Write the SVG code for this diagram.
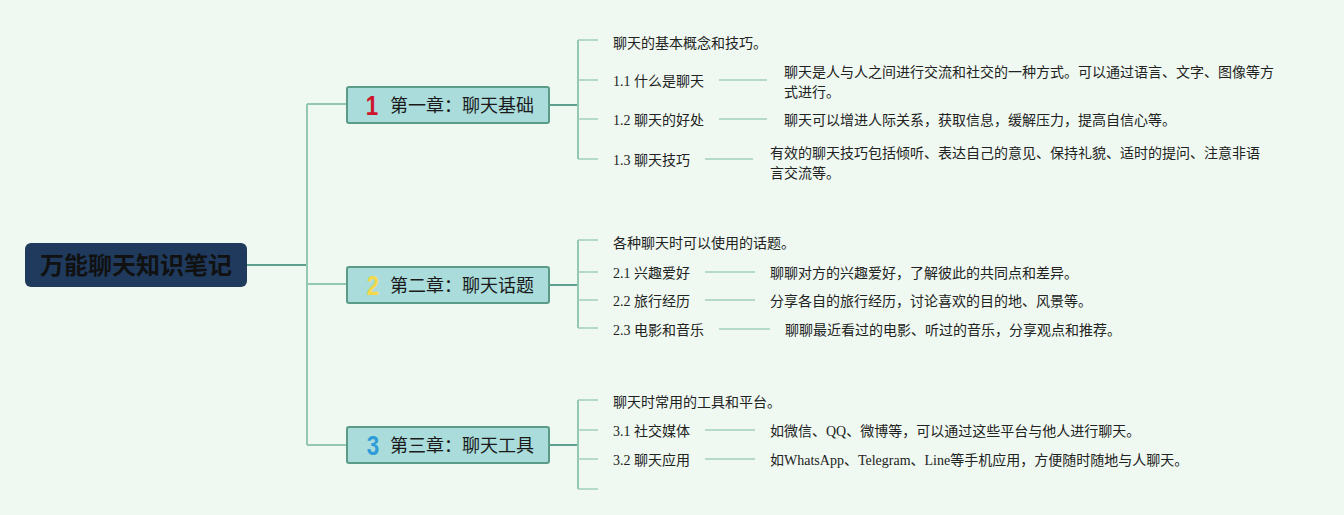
<svg xmlns="http://www.w3.org/2000/svg" width="1344" height="515" viewBox="0 0 1344 515">
<style>
.bg{fill:#eff9f1}
.main{stroke:#5f9f8f;stroke-width:2;fill:none}
.vert{stroke:#93c8b2;stroke-width:2;fill:none}
.sub{stroke:#a3cfbd;stroke-width:1.5;fill:none}
.chap{fill:#a9dcda;stroke:#5b9c88;stroke-width:2}
.ct{font-family:"Noto Sans CJK SC","Noto Sans",sans-serif;font-size:18px;fill:#1a1a1a}
.num{font-family:"Liberation Sans","Noto Sans",sans-serif;font-size:28px;font-weight:bold}
.t{font-family:"Liberation Serif","Noto Sans CJK SC",serif;font-size:14px;fill:#222}
</style>
<rect class="bg" x="0" y="0" width="1344" height="515"/>
<g id="connectors">
<path class="main" d="M247 265 H307"/>
<path class="vert" d="M307 104 V445"/>
<path class="vert" d="M307 104 H347 M307 284 H347 M307 445 H347"/>
<path class="main" d="M549 105 H578 M549 285 H578 M549 445 H578"/>
<path class="vert" d="M578 40 V159 M578 240 V328 M578 400 V489"/>
<path class="sub" d="M578 40 H598 M578 80 H598 M578 119 H598 M578 159 H598"/>
<path class="sub" d="M578 240 H598 M578 272 H598 M578 300 H598 M578 328 H598"/>
<path class="sub" d="M578 400 H598 M578 430 H598 M578 459 H598 M578 489 H598"/>
<path class="sub" d="M719 80 H767 M719 119 H767 M705 159 H753"/>
<path class="sub" d="M705 272 H755 M705 300 H755 M719 329 H770"/>
<path class="sub" d="M705 430 H755 M705 459 H755"/>
</g>
<g id="root">
<rect x="25" y="243" width="222" height="44" rx="6" fill="#1f3a5c"/>
<text x="136" y="274" text-anchor="middle" font-family="Noto Sans CJK SC,sans-serif" font-size="24" font-weight="bold" fill="#111">万能聊天知识笔记</text>
</g>
<g id="chapter1">
<rect class="chap" x="347" y="87" width="202" height="36" rx="2"/>
<text class="num" x="372" y="115" fill="#d0142c" text-anchor="middle" transform="translate(372 0) scale(0.8 1) translate(-372 0)">1</text>
<text class="ct" x="390" y="112">第一章：聊天基础</text>
</g>
<g id="chapter2">
<rect class="chap" x="347" y="267" width="202" height="36" rx="2"/>
<text class="num" x="373" y="295" fill="#f2d84a" text-anchor="middle" transform="translate(373 0) scale(0.8 1) translate(-373 0)">2</text>
<text class="ct" x="390" y="292">第二章：聊天话题</text>
</g>
<g id="chapter3">
<rect class="chap" x="347" y="427" width="202" height="36" rx="2"/>
<text class="num" x="373" y="455" fill="#2f9bd8" text-anchor="middle" transform="translate(373 0) scale(0.8 1) translate(-373 0)">3</text>
<text class="ct" x="390" y="452">第三章：聊天工具</text>
</g>
<g id="ch1-items">
<text class="t" x="613" y="48">聊天的基本概念和技巧。</text>
<text class="t" x="613" y="86">1.1 什么是聊天</text>
<text class="t" x="784" y="77">聊天是人与人之间进行交流和社交的一种方式。可以通过语言、文字、图像等方</text>
<text class="t" x="784" y="97">式进行。</text>
<text class="t" x="613" y="125">1.2 聊天的好处</text>
<text class="t" x="784" y="125">聊天可以增进人际关系，获取信息，缓解压力，提高自信心等。</text>
<text class="t" x="613" y="165">1.3 聊天技巧</text>
<text class="t" x="770" y="158">有效的聊天技巧包括倾听、表达自己的意见、保持礼貌、适时的提问、注意非语</text>
<text class="t" x="770" y="178">言交流等。</text>
</g>
<g id="ch2-items">
<text class="t" x="613" y="248">各种聊天时可以使用的话题。</text>
<text class="t" x="613" y="278">2.1 兴趣爱好</text>
<text class="t" x="770" y="278">聊聊对方的兴趣爱好，了解彼此的共同点和差异。</text>
<text class="t" x="613" y="306">2.2 旅行经历</text>
<text class="t" x="770" y="306">分享各自的旅行经历，讨论喜欢的目的地、风景等。</text>
<text class="t" x="613" y="335">2.3 电影和音乐</text>
<text class="t" x="785" y="335">聊聊最近看过的电影、听过的音乐，分享观点和推荐。</text>
</g>
<g id="ch3-items">
<text class="t" x="613" y="407">聊天时常用的工具和平台。</text>
<text class="t" x="613" y="436">3.1 社交媒体</text>
<text class="t" x="770" y="436">如微信、QQ、微博等，可以通过这些平台与他人进行聊天。</text>
<text class="t" x="613" y="465">3.2 聊天应用</text>
<text class="t" x="770" y="465">如WhatsApp、Telegram、Line等手机应用，方便随时随地与人聊天。</text>
</g>
</svg>
